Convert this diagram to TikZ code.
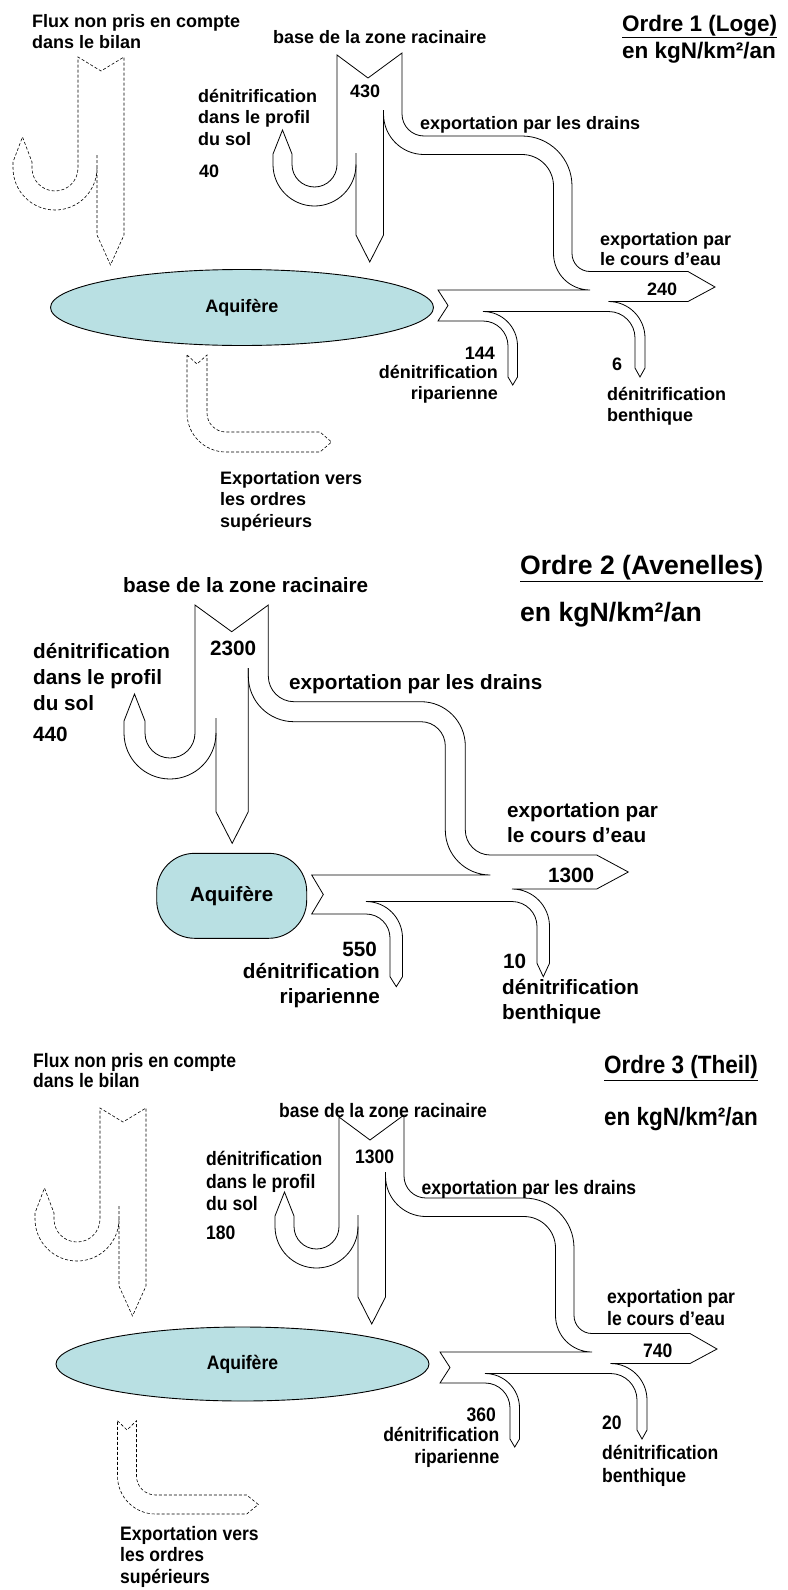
\documentclass[tikz,border=0pt]{standalone}
\usepackage{fontspec}
\setmainfont{Liberation Sans}
\newfontfamily\etroite[FakeStretch=0.9]{Liberation Sans}
\usetikzlibrary{shapes.geometric}
\definecolor{aq}{HTML}{B9E0E3}

% outline of the flows, orders 1 and 3
\newcommand{\reseau}{%
  \draw[flux] (356,164.5) arc[start angle=0,end angle=180,radius=41.5]
    -- (273,154) -- (282.5,130) -- (292,154) -- (292,164.5)
    arc[start angle=180,end angle=0,radius=22.5]
    -- (337,55) -- (368,78) -- (402,53) -- (402,114)
    arc[start angle=180,end angle=90,radius=22]
    -- (522,136) arc[start angle=270,end angle=360,radius=50]
    -- (572,253.5) arc[start angle=180,end angle=90,radius=18]
    -- (688,271.5) -- (715,287) -- (688,301.5)
    -- (608.5,301.5) arc[start angle=270,end angle=360,radius=36.5]
    -- (645,368) -- (640,377) -- (635,368) -- (635,338)
    arc[start angle=0,end angle=-90,radius=26.5]
    -- (483,311.5) arc[start angle=-90,end angle=0,radius=34.5]
    -- (517.5,377) -- (512.75,385) -- (508,377) -- (508,346)
    arc[start angle=0,end angle=-90,radius=25]
    -- (438,321) -- (448,305.5) -- (438,290)
    -- (590,290) arc[start angle=90,end angle=180,radius=36.5]
    -- (553.5,186) arc[start angle=0,end angle=-90,radius=31.5]
    -- (424,154.5) arc[start angle=90,end angle=180,radius=40.5]
    -- (383.5,110);
  \draw[flux] (383.5,110) -- (383.5,235) -- (369.75,262) -- (356,235) -- (356,153);
}
% dashed flow not in the balance
\newcommand{\horsbilan}{%
  \draw[pointille] (97,168) arc[start angle=0,end angle=180,radius=42]
    -- (13,162) -- (22.5,137) -- (32,162) -- (32,168)
    arc[start angle=180,end angle=0,radius=23]
    -- (78,57) -- (101,71) -- (124,57) -- (124,235) -- (110.5,265) -- (97,235) -- (97,155);
}

\begin{document}
\begin{tikzpicture}[x=1pt,y=-1pt,
  flux/.style={draw=black, line width=0.8pt, line join=miter},
  pointille/.style={draw=black, line width=0.6pt, dash pattern=on 3pt off 2pt},
  aquifere/.style={draw=black, line width=0.9pt, fill=aq, inner sep=0pt},
  txt/.style={inner sep=0pt, align=left, font=\bfseries\fontsize{18}{21.5}\selectfont},
  txtb/.style={inner sep=0pt, align=left, font=\bfseries\fontsize{20.7}{26}\selectfont},
  txtc/.style={inner sep=0pt, align=left, font=\etroite\bfseries\fontsize{19.5}{22.5}\selectfont},
  titre/.style={inner sep=0pt, anchor=north west, font=\bfseries\fontsize{22.5}{26}\selectfont},
  titreb/.style={inner sep=0pt, anchor=north west, font=\bfseries\fontsize{26.6}{30}\selectfont},
  titrec/.style={inner sep=0pt, anchor=north west, font=\etroite\bfseries\fontsize{25}{28}\selectfont}]
  \useasboundingbox (0,0) rectangle (787,1590);

  %% Ordre 1 (Loge)
  \reseau
  \horsbilan
  \draw[pointille] (187,355) -- (197,364) -- (207,355) -- (207,413)
    arc[start angle=180,end angle=90,radius=19] -- (320,432) -- (331.5,442) -- (320,452)
    -- (226,452) arc[start angle=90,end angle=180,radius=39] -- cycle;
  \node[aquifere, ellipse, minimum width=383pt, minimum height=76pt,
    font=\bfseries\fontsize{18}{18}\selectfont] (aq1) at (242,307.5) {Aquifère};

  \node[txt, anchor=north west] (flux1) at (32,14) {Flux non pris en compte\\dans le bilan};
  \node[txt, anchor=north west] (racine1) at (273,30) {base de la zone racinaire};
  \node[txt, anchor=north west] (val430) at (350,85) {430};
  \node[txt, anchor=north west] (denit1) at (198,89) {dénitrification\\dans le profil\\du sol};
  \node[txt, anchor=north west] (val40) at (199,165) {40};
  \node[txt, anchor=north west] (drain1) at (420,116) {exportation par les drains};
  \node[txt, anchor=north west, font=\bfseries\fontsize{18}{20}\selectfont] (cours1) at (600,232) {exportation par\\le cours d’eau};
  \node[txt, anchor=north west] (val240) at (647,283) {240};
  \node[txt, anchor=north east] (val144) at (495,347) {144};
  \node[txt, anchor=north east, align=right] (ripa1) at (498,365) {dénitrification\\riparienne};
  \node[txt, anchor=north west] (val6) at (612,358) {6};
  \node[txt, anchor=north west] (benth1) at (607,387) {dénitrification\\benthique};
  \node[txt, anchor=north west] (export1) at (220,471) {Exportation vers\\les ordres\\supérieurs};
  \node[titre] (titre1) at (622,15) {\underline{Ordre 1 (Loge)}};
  \node[titre] (unite1) at (622,41.5) {en kgN/km²/an};

  %% Ordre 2 (Avenelles)
  \draw[flux] (216,733) arc[start angle=0,end angle=180,radius=46]
    -- (124,721) -- (134.5,694) -- (145,721) -- (145,733)
    arc[start angle=180,end angle=0,radius=25]
    -- (195,605) -- (231.7,631.7) -- (268.3,605) -- (268.3,676)
    arc[start angle=180,end angle=90,radius=25.7]
    -- (421,701.7) arc[start angle=270,end angle=360,radius=44.3]
    -- (465.3,830) arc[start angle=180,end angle=90,radius=25]
    -- (596.7,855) -- (628.3,872) -- (596.7,889)
    -- (512,889) arc[start angle=270,end angle=360,radius=37.5]
    -- (549.5,963.3) -- (543.3,976.7) -- (537,963.3) -- (537,926.5)
    arc[start angle=0,end angle=-90,radius=25]
    -- (366,901.5) arc[start angle=-90,end angle=0,radius=36.5]
    -- (402.5,976.7) -- (396.3,986.7) -- (390,976.7) -- (390,938)
    arc[start angle=0,end angle=-90,radius=24]
    -- (311.7,914) -- (323.3,894.5) -- (311.7,875)
    -- (490.3,875) arc[start angle=90,end angle=180,radius=45]
    -- (445.3,746) arc[start angle=0,end angle=-90,radius=24.3]
    -- (294,721.7) arc[start angle=90,end angle=180,radius=45.7]
    -- (248.3,668);
  \draw[flux] (248.3,668) -- (248.3,811.7) -- (232.2,843.3) -- (216,811.7) -- (216,718);
  \node[aquifere, rounded corners=38pt, minimum width=150pt, minimum height=85pt,
    font=\bfseries\fontsize{20.5}{20.5}\selectfont] (aq2) at (231.7,895.8) {Aquifère};

  \node[txtb, anchor=north west] (racine2) at (123,577) {base de la zone racinaire};
  \node[txtb, anchor=north west] (val2300) at (210,641) {2300};
  \node[txtb, anchor=north west] (denit2) at (33,643) {dénitrification\\dans le profil\\du sol};
  \node[txtb, anchor=north west] (val440) at (33,727) {440};
  \node[txtb, anchor=north west] (drain2) at (289,674) {exportation par les drains};
  \node[txtb, anchor=north west, font=\bfseries\fontsize{20.7}{25}\selectfont] (cours2) at (507,802) {exportation par\\le cours d’eau};
  \node[txtb, anchor=north west] (val1300b) at (548,868) {1300};
  \node[txtb, anchor=north east] (val550) at (377,942) {550};
  \node[txtb, anchor=north east, align=right, font=\bfseries\fontsize{20.7}{25}\selectfont] (ripa2) at (380,963) {dénitrification\\riparienne};
  \node[txtb, anchor=north west] (val10) at (503,954) {10};
  \node[txtb, anchor=north west, font=\bfseries\fontsize{20.7}{25}\selectfont] (benth2) at (502,979) {dénitrification\\benthique};
  \node[titreb] (titre2) at (520,555) {\underline{Ordre 2 (Avenelles)}};
  \node[titreb] (unite2) at (520,602) {en kgN/km²/an};

  %% Ordre 3 (Theil)
  \begin{scope}[shift={(2,1062)}]
    \reseau
  \end{scope}
  \begin{scope}[shift={(22,1051)}]
    \horsbilan
  \end{scope}
  \draw[pointille] (117.5,1420.7) -- (127,1430) -- (136.5,1420.7) -- (136.5,1476)
    arc[start angle=180,end angle=90,radius=19] -- (246.7,1495) -- (258.3,1504.5) -- (246.7,1514)
    -- (155.5,1514) arc[start angle=90,end angle=180,radius=38] -- cycle;
  \node[aquifere, ellipse, minimum width=373pt, minimum height=74pt,
    font=\etroite\bfseries\fontsize{19.5}{19.5}\selectfont] (aq3) at (242.5,1364) {Aquifère};

  \node[txtc, anchor=north west, font=\etroite\bfseries\fontsize{19.5}{20.5}\selectfont] (flux3) at (33,1053) {Flux non pris en compte\\dans le bilan};
  \node[txtc, anchor=north west] (racine3) at (279,1103) {base de la zone racinaire};
  \node[txtc, anchor=north west] (val1300c) at (355,1150) {1300};
  \node[txtc, anchor=north west] (denit3) at (206,1151) {dénitrification\\dans le profil\\du sol};
  \node[txtc, anchor=north west] (val180) at (206,1226) {180};
  \node[txtc, anchor=north west] (drain3) at (421.5,1180) {exportation par les drains};
  \node[txtc, anchor=north west, font=\etroite\bfseries\fontsize{19.5}{21.7}\selectfont] (cours3) at (607,1289) {exportation par\\le cours d’eau};
  \node[txtc, anchor=north west] (val740) at (643,1344) {740};
  \node[txtc, anchor=north east] (val360) at (496,1408) {360};
  \node[txtc, anchor=north east, align=right, font=\etroite\bfseries\fontsize{19.5}{22}\selectfont] (ripa3) at (499.5,1427) {dénitrification\\riparienne};
  \node[txtc, anchor=north west] (val20) at (602,1416) {20};
  \node[txtc, anchor=north west] (benth3) at (602,1445) {dénitrification\\benthique};
  \node[txtc, anchor=north west, font=\etroite\bfseries\fontsize{19.5}{21.5}\selectfont] (export3) at (120,1526) {Exportation vers\\les ordres\\supérieurs};
  \node[titrec] (titre3) at (604,1055) {\underline{Ordre 3 (Theil)}};
  \node[titrec] (unite3) at (604,1107) {en kgN/km²/an};
\end{tikzpicture}
\end{document}
